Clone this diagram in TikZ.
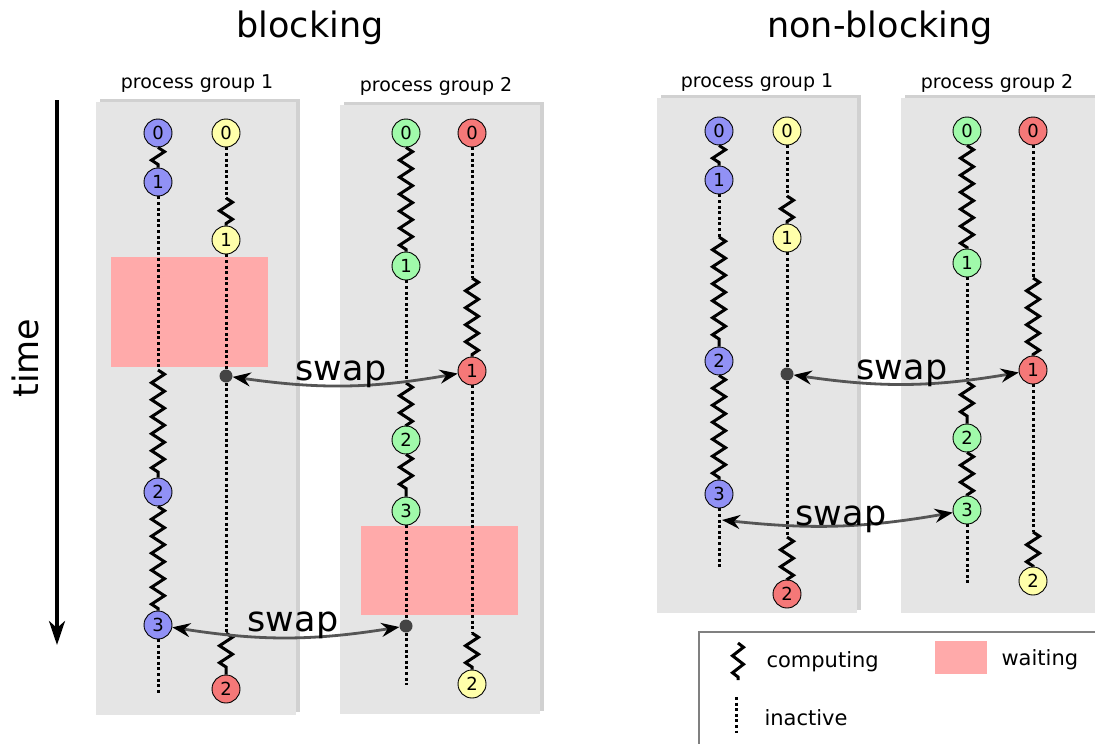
\documentclass[tikz,border=0pt]{standalone}
\usepackage{fontspec}
\setmainfont{DejaVu Sans}
\usepackage{tikz}
\usetikzlibrary{arrows.meta,%
                shadows,%
                decorations.pathmorphing}
\definecolor{cgroup}{RGB}{229,229,229}
\definecolor{cwait}{RGB}{255,170,170}
\definecolor{cblue}{RGB}{145,145,245}
\definecolor{cyellow}{RGB}{255,255,170}
\definecolor{cgreen}{RGB}{160,250,170}
\definecolor{cred}{RGB}{245,120,120}
\definecolor{cswap}{RGB}{85,85,85}
\definecolor{clegend}{RGB}{128,128,128}

\begin{document}
\begin{tikzpicture}[x=1pt, y=-1pt]
        \tikzset{
          proc/.style={circle, draw, line width=0.9pt, minimum size=28pt, inner sep=0pt,
                       font=\fontsize{18}{18}\selectfont},
          bluep/.style={proc, fill=cblue},
          yellowp/.style={proc, fill=cyellow},
          greenp/.style={proc, fill=cgreen},
          redp/.style={proc, fill=cred},
          joint/.style={circle, fill=cswap!80!black, minimum size=13pt, inner sep=0pt},
          comp/.style={decorate, decoration={zigzag, segment length=17pt, amplitude=6.5pt}, line width=3pt},
          idle/.style={line width=3pt, dash pattern=on 3pt off 2.6pt},
          group/.style={fill=cgroup, drop shadow={shadow xshift=4pt, shadow yshift=3pt, opacity=0.18, fill=black}},
          waitbox/.style={fill=cwait},
          swaparrow/.style={{Stealth[length=18pt, width=14pt, inset=6pt, black]}-{Stealth[length=18pt, width=14pt, inset=6pt, black]},
                            draw=cswap, line width=2.8pt},
          title/.style={font=\fontsize{35}{40}\selectfont},
          grouplabel/.style={font=\fontsize{19}{22}\selectfont},
          swaplabel/.style={font=\fontsize{35}{38}\selectfont},
          legendlabel/.style={font=\fontsize{21}{24}\selectfont, anchor=west},
        }
        \useasboundingbox (0,0) rectangle (1095,744);
        % time axis
        \node (time) [title, rotate=90] at (25,358) {time};
        \coordinate (tstart) at (57,100);
        \coordinate (tend) at (57,645);
        \draw [line width=3.5pt, -{Stealth[length=24pt, width=16pt, inset=7pt]}] (tstart) -- (tend);
        % 
        % blocking
        \node (tblock) [title] at (310,28) {blocking};
        \path [group] (96,102) rectangle (296,715);
        \path [group] (340,105) rectangle (540,714);
        \node (lab11) [grouplabel] at (197,84) {process group 1};
        \node (lab12) [grouplabel] at (436,86) {process group 2};
        \path [waitbox] (111,257) rectangle (268,367);
        \path [waitbox] (361,526) rectangle (518,615);
        % 
        \node [bluep] (b0) at (158,133) {0};
        \node [bluep] (b1) at (158,182) {1};
        \node [bluep] (b2) at (158,492) {2};
        \node [bluep] (b3) at (158,625) {3};
        \coordinate (bA) at (158,370);
        \coordinate (bE) at (158,695);
        \draw [comp] (b0) -- (b1);
        \draw [idle] (b1) -- (bA);
        \draw [comp] (bA) -- (b2);
        \draw [comp] (b2) -- (b3);
        \draw [idle] (b3) -- (bE);
        % 
        \node [yellowp] (y0) at (226,133) {0};
        \node [yellowp] (y1) at (226,240) {1};
        \node [joint] (ydot) at (226,376) {};
        \node [redp] (r2) at (226,689) {2};
        \coordinate (yA) at (226,198);
        \coordinate (yB) at (226,633);
        \draw [idle] (y0) -- (yA);
        \draw [comp] (yA) -- (y1);
        \draw [idle] (y1) -- (ydot);
        \draw [idle] (ydot) -- (yB);
        \draw [comp] (yB) -- (r2);
        % 
        \node [greenp] (g0) at (406,133) {0};
        \node [greenp] (g1) at (406,266) {1};
        \node [greenp] (g2) at (406,440) {2};
        \node [greenp] (g3) at (406,511) {3};
        \node [joint] (gdot) at (406,626) {};
        \coordinate (gA) at (406,383);
        \coordinate (gE) at (406,685);
        \draw [comp] (g0) -- (g1);
        \draw [idle] (g1) -- (gA);
        \draw [comp] (gA) -- (g2);
        \draw [comp] (g2) -- (g3);
        \draw [idle] (g3) -- (gdot);
        \draw [idle] (gdot) -- (gE);
        % 
        \node [redp] (r0) at (472,133) {0};
        \node [redp] (r1) at (472,371) {1};
        \node [yellowp] (yl2) at (472,684) {2};
        \coordinate (rA) at (472,278);
        \coordinate (rB) at (472,633);
        \draw [idle] (r0) -- (rA);
        \draw [comp] (rA) -- (r1);
        \draw [idle] (r1) -- (rB);
        \draw [comp] (rB) -- (yl2);
        % 
        \draw [swaparrow] (ydot) to[bend right=9] (r1);
        \node (sw1) [swaplabel] at (341,374) {swap};
        \draw [swaparrow] (b3) to[bend right=9] (gdot);
        \node (sw2) [swaplabel] at (293,625) {swap};
        % 
        % non-blocking
        \node (tnonblock) [title] at (880,28) {non-blocking};
        \path [group] (657,98) rectangle (857,613);
        \path [group] (901,98) rectangle (1110,613);
        \node (lab21) [grouplabel] at (757,83) {process group 1};
        \node (lab22) [grouplabel] at (997,83) {process group 2};
        % 
        \node [bluep] (nb0) at (719,131) {0};
        \node [bluep] (nb1) at (719,180) {1};
        \node [bluep] (nb2) at (719,361) {2};
        \node [bluep] (nb3) at (719,494) {3};
        \coordinate (nbA) at (719,237);
        \coordinate (nbE) at (719,570);
        \draw [comp] (nb0) -- (nb1);
        \draw [idle] (nb1) -- (nbA);
        \draw [comp] (nbA) -- (nb2);
        \draw [comp] (nb2) -- (nb3);
        \draw [idle] (nb3) -- (nbE);
        % 
        \node [yellowp] (ny0) at (787,131) {0};
        \node [yellowp] (ny1) at (787,238) {1};
        \node [joint] (nydot) at (787,374) {};
        \node [redp] (nr2) at (787,594) {2};
        \coordinate (nyA) at (787,196);
        \coordinate (nyB) at (787,537);
        \draw [idle] (ny0) -- (nyA);
        \draw [comp] (nyA) -- (ny1);
        \draw [idle] (ny1) -- (nydot);
        \draw [idle] (nydot) -- (nyB);
        \draw [comp] (nyB) -- (nr2);
        % 
        \node [greenp] (ng0) at (967,131) {0};
        \node [greenp] (ng1) at (967,263) {1};
        \node [greenp] (ng2) at (967,438) {2};
        \node [greenp] (ng3) at (967,510) {3};
        \coordinate (ngA) at (967,382);
        \coordinate (ngE) at (967,583);
        \draw [comp] (ng0) -- (ng1);
        \draw [idle] (ng1) -- (ngA);
        \draw [comp] (ngA) -- (ng2);
        \draw [comp] (ng2) -- (ng3);
        \draw [idle] (ng3) -- (ngE);
        % 
        \node [redp] (nr0) at (1033,131) {0};
        \node [redp] (nr1) at (1033,370) {1};
        \node [yellowp] (nyl2) at (1033,581) {2};
        \coordinate (nrA) at (1033,278);
        \coordinate (nrB) at (1033,532);
        \draw [idle] (nr0) -- (nrA);
        \draw [comp] (nrA) -- (nr1);
        \draw [idle] (nr1) -- (nrB);
        \draw [comp] (nrB) -- (nyl2);
        % 
        \coordinate (nbx) at (722,520);
        \draw [swaparrow] (nydot) to[bend right=9] (nr1);
        \node (nsw1) [swaplabel] at (902,373) {swap};
        \draw [swaparrow] (nbx) to[bend right=8] (ng3);
        \node (nsw2) [swaplabel] at (841,519) {swap};
        % 
        % legend
        \draw [clegend, line width=1.5pt] (1110,632) -- (699,632) -- (699,760);
        \coordinate (lzA) at (738,643);
        \coordinate (lzB) at (738,680);
        \draw [comp, decoration={amplitude=5.5pt}] (lzA) -- (lzB);
        \node (lcomp) [legendlabel] at (763,662) {computing};
        \path [waitbox] (935,641) rectangle (987,674);
        \node (lwait) [legendlabel] at (998,660) {waiting};
        \coordinate (ldA) at (736,697);
        \coordinate (ldB) at (736,733);
        \draw [idle] (ldA) -- (ldB);
        \node (linact) [legendlabel] at (761,718) {inactive};
    \end{tikzpicture}
\end{document}
